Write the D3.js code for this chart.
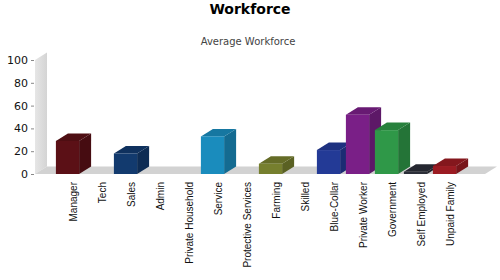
<!DOCTYPE html>
<html>
<head>
<meta charset="utf-8">
<script src="https://cdn.jsdelivr.net/npm/d3@7"></script>
<style>
  body { margin: 0; background: #fff; }
  text { font-family: "DejaVu Sans", sans-serif; }
</style>
</head>
<body>
<script>
// chart data
const categories = ["Manager", "Tech", "Sales", "Admin", "Private Household", "Service",
  "Protective Services", "Farming", "Skilled", "Blue-Collar", "Private Worker",
  "Government", "Self Employed", "Unpaid Family"];
const values = [29, 0, 18, 0, 0, 33, 0, 9, 0, 21, 52, 38.5, 2, 7];
const yTicks = [0, 20, 40, 60, 80, 100];
const barColors = ["#5b1016", "#555", "#123a6e", "#555", "#555", "#1a8cbd", "#555",
  "#767f2e", "#555", "#233a96", "#7a1f87", "#2f9848", "#2b2e38", "#9b1b22"];

const svg = d3.select('body').append('svg')
    .attr('width', 500)
    .attr('height', 280);

const depthX = 12, depthY = -7.5;

const x = d3.scaleBand()
    .domain(categories)
    .range([53, 459])
    .paddingInner(0.2)
    .paddingOuter(0.1);

const y = d3.scaleLinear()
    .domain([0, 100])
    .range([174, 60]);

// title + subtitle
svg.append('text')
    .attr('x', 250).attr('y', 14)
    .attr('text-anchor', 'middle')
    .style('font-size', '14px').style('font-weight', 'bold')
    .text('Workforce');

svg.append('text')
    .attr('x', 248).attr('y', 45)
    .attr('text-anchor', 'middle')
    .style('font-size', '10px').style('fill', '#444')
    .text('Average Workforce');

// back wall (left) and floor
const defs = svg.append('defs');
const grad = defs.append('linearGradient').attr('id', 'wall')
    .attr('x1', 0).attr('x2', 1).attr('y1', 0).attr('y2', 0);
grad.append('stop').attr('offset', '0%').attr('stop-color', '#e6e6e6');
grad.append('stop').attr('offset', '100%').attr('stop-color', '#d4d4d4');

const x0 = 35, x1 = 485;
svg.append('path')
    .attr('d', `M${x0},${y(0)} L${x0},${y(100)} L${x0 + depthX},${y(100) + depthY} L${x0 + depthX},${y(0) + depthY} Z`)
    .attr('fill', 'url(#wall)');

svg.append('path')
    .attr('d', `M${x0},${y(0)} L${x1},${y(0)} L${x1 + depthX},${y(0) + depthY} L${x0 + depthX},${y(0) + depthY} Z`)
    .attr('fill', '#d2d2d2');

// y axis
const yAxis = svg.append('g')
    .attr('transform', `translate(${x0 - 1},0)`)
    .call(d3.axisLeft(y).tickValues(yTicks).tickSize(3).tickPadding(3));
yAxis.select('.domain').remove();
yAxis.selectAll('line').attr('stroke', '#888');
yAxis.selectAll('text')
    .style('font-size', '11px')
    .style('font-family', '"DejaVu Sans", sans-serif')
    .attr('fill', '#111');

// 3D bars
const bars = svg.selectAll('g.bar')
    .data(categories.map((c, i) => ({ cat: c, value: values[i], color: barColors[i] })).filter(d => d.value > 0))
    .enter()
  .append('g')
    .attr('class', 'bar');

const bw = x.bandwidth();

bars.append('path') // side
    .attr('d', d => {
        const xr = x(d.cat) + bw, yt = y(d.value), yb = y(0);
        return `M${xr},${yb} L${xr},${yt} L${xr + depthX},${yt + depthY} L${xr + depthX},${yb + depthY} Z`;
    })
    .attr('fill', d => d3.color(d.color).darker(0.75));

bars.append('path') // top
    .attr('d', d => {
        const xl = x(d.cat), yt = y(d.value);
        return `M${xl},${yt} L${xl + bw},${yt} L${xl + bw + depthX},${yt + depthY} L${xl + depthX},${yt + depthY} Z`;
    })
    .attr('fill', d => d3.color(d.color).darker(0.45));

bars.append('rect') // front
    .attr('x', d => x(d.cat))
    .attr('y', d => y(d.value))
    .attr('width', bw)
    .attr('height', d => y(0) - y(d.value))
    .attr('fill', d => d.color);

// category labels, rotated
svg.selectAll('text.cat')
    .data(categories)
    .enter()
  .append('text')
    .attr('class', 'cat')
    .attr('transform', d => `translate(${x(d) + (bw + depthX) / 2},182) rotate(-90)`)
    .attr('text-anchor', 'end')
    .attr('dy', '0.35em')
    .style('font-size', '10px')
    .style('font-family', '"Liberation Sans", Arial, sans-serif')
    .style('fill', '#111')
    .text(d => d);
</script>
</body>
</html>
